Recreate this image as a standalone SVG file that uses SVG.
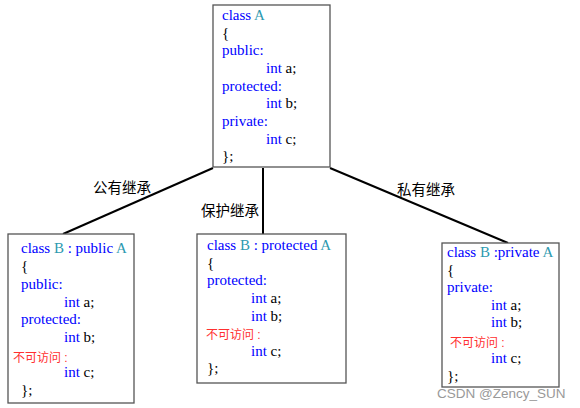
<svg xmlns="http://www.w3.org/2000/svg" width="580" height="408" viewBox="0 0 580 408">
<style>
.box{fill:#fff;stroke:#555;stroke-width:1.3}
.c{font-family:"Liberation Serif","Times New Roman",serif;font-size:15px;fill:#000}
.kw{fill:#0000ff}
.cls{fill:#2e9ab0}
.red{font-family:"Liberation Sans","Noto Sans CJK SC",sans-serif;font-size:12px;fill:#ff3030}
.lbl{font-family:"Liberation Sans","Noto Sans CJK SC",sans-serif;font-size:14.5px;fill:#000}
.wm{font-family:"Liberation Sans","Noto Sans CJK SC",sans-serif;font-size:13.5px;fill:#999}
.conn{stroke:#000;stroke-width:2;fill:none}
</style>
<g id="connectors">
<line class="conn" x1="213" y1="168" x2="63" y2="234"/>
<line class="conn" x1="263" y1="168" x2="263" y2="234"/>
<line class="conn" x1="330" y1="168" x2="508" y2="243"/>
<text class="lbl" x="93" y="193">公有继承</text>
<text class="lbl" x="201" y="216">保护继承</text>
<text class="lbl" x="397" y="195">私有继承</text>
</g>
<g id="classA">
<rect class="box" x="213" y="5" width="117" height="162"/>
<text class="c" x="222" y="20"><tspan class="kw">class </tspan><tspan class="cls">A</tspan></text>
<text class="c" x="222" y="38">{</text>
<text class="c kw" x="222" y="55">public:</text>
<text class="c" x="266" y="73"><tspan class="kw">int</tspan> a;</text>
<text class="c kw" x="222" y="91">protected:</text>
<text class="c" x="266" y="108"><tspan class="kw">int</tspan> b;</text>
<text class="c kw" x="222" y="126">private:</text>
<text class="c" x="266" y="144"><tspan class="kw">int</tspan> c;</text>
<text class="c" x="222" y="161">};</text>
</g>
<g id="classB_public">
<rect class="box" x="8" y="234" width="126" height="169"/>
<text class="c" x="21" y="253"><tspan class="kw">class </tspan><tspan class="cls">B</tspan><tspan class="kw"> : public </tspan><tspan class="cls">A</tspan></text>
<text class="c" x="21" y="271">{</text>
<text class="c kw" x="21" y="289">public:</text>
<text class="c" x="64" y="307"><tspan class="kw">int</tspan> a;</text>
<text class="c kw" x="21" y="324">protected:</text>
<text class="c" x="64" y="342"><tspan class="kw">int</tspan> b;</text>
<text class="red" x="13" y="362">不可访问 :</text>
<text class="c" x="64" y="377"><tspan class="kw">int</tspan> c;</text>
<text class="c" x="21" y="395">};</text>
</g>
<g id="classB_protected">
<rect class="box" x="197" y="234" width="149" height="149"/>
<text class="c" x="207" y="250"><tspan class="kw">class </tspan><tspan class="cls">B</tspan><tspan class="kw"> : protected </tspan><tspan class="cls">A</tspan></text>
<text class="c" x="207" y="268">{</text>
<text class="c kw" x="207" y="285">protected:</text>
<text class="c" x="251" y="303"><tspan class="kw">int</tspan> a;</text>
<text class="c" x="251" y="321"><tspan class="kw">int</tspan> b;</text>
<text class="red" x="206" y="339">不可访问 :</text>
<text class="c" x="251" y="356"><tspan class="kw">int</tspan> c;</text>
<text class="c" x="207" y="373">};</text>
</g>
<g id="classB_private">
<rect class="box" x="442" y="243" width="117" height="144"/>
<text class="c" x="447" y="257"><tspan class="kw">class </tspan><tspan class="cls">B</tspan><tspan class="kw"> :private </tspan><tspan class="cls">A</tspan></text>
<text class="c" x="447" y="275">{</text>
<text class="c kw" x="447" y="292">private:</text>
<text class="c" x="491" y="310"><tspan class="kw">int</tspan> a;</text>
<text class="c" x="491" y="327"><tspan class="kw">int</tspan> b;</text>
<text class="red" x="450" y="347">不可访问 :</text>
<text class="c" x="491" y="363"><tspan class="kw">int</tspan> c;</text>
<text class="c" x="447" y="381">};</text>
</g>
<text class="wm" x="437" y="398">CSDN @Zency_SUN</text>
</svg>
